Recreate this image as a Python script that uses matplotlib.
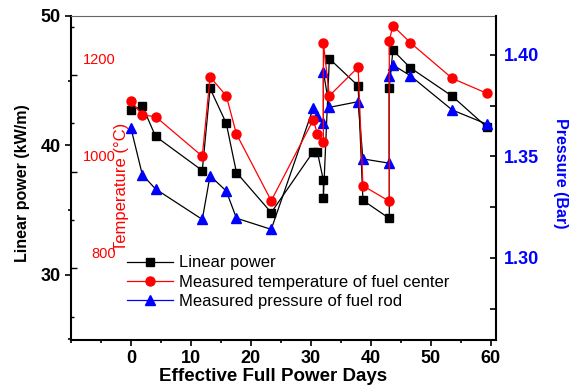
import matplotlib
matplotlib.use('Agg')
import matplotlib.pyplot as plt
import matplotlib.transforms as mtransforms
from matplotlib.ticker import MultipleLocator, FixedLocator
from matplotlib.lines import Line2D

plt.rcParams['font.family'] = ['Liberation Sans', 'DejaVu Sans']
plt.rcParams['font.weight'] = 'bold'
plt.rcParams['axes.labelweight'] = 'bold'

# effective full power days (shared by all three series)
days = [0, 1.9, 4.1, 11.9, 13.2, 15.9, 17.6, 23.4, 30.4, 31.1, 32.1, 32.1, 33.1,
        37.9, 38.7, 43.1, 43.1, 43.7, 46.6, 53.6, 59.4]
# linear power, kW/m
power = [42.7, 43.05, 40.7, 38.05, 44.4, 41.7, 37.9, 34.8, 39.5, 39.5, 37.3, 35.9, 46.7,
         44.6, 35.75, 34.35, 44.45, 47.35, 46.0, 43.8, 41.4]
# measured temperature of fuel center, C
temp = [1147, 1117, 1114, 1032, 1196, 1157, 1078, 940, 1107, 1079, 1061, 1267, 1157,
        1216, 971, 939, 1271, 1302, 1267, 1193, 1162]
# measured pressure of fuel rod, bar
pressure = [1.364, 1.341, 1.334, 1.319, 1.3405, 1.333, 1.3196, 1.3141, 1.3737, 1.370, 1.3667,
            1.3918, 1.3742, 1.377, 1.3488, 1.3467, 1.3898, 1.3951, 1.3898, 1.3729, 1.3659]

labels = ['Linear power', 'Measured temperature of fuel center', 'Measured pressure of fuel rod']
temp_ticks = [800, 1000, 1200]
temp_minor = [700, 900, 1100, 1300]
press_ticks = [1.30, 1.35, 1.40]
press_minor = [1.275, 1.325, 1.375]

fig = plt.figure(figsize=(5.74, 3.91), dpi=100)
ax = fig.add_axes([71/574, 1-340/391, 425/574, 324/391])

ax.plot(days, power, color='black', lw=0.9, marker='s', ms=6, mfc='black', mec='black')
ax.set_xlim(-10, 60.9)
ax.set_ylim(24.95, 50)
ax.set_xticks(range(0, 61, 10))
ax.xaxis.set_minor_locator(MultipleLocator(5))
ax.set_yticks([30, 40, 50])
ax.yaxis.set_minor_locator(MultipleLocator(5))
ax.tick_params(axis='both', which='both', direction='out', width=1.2, labelsize=13)
ax.tick_params(axis='both', which='major', length=4.5)
ax.tick_params(axis='both', which='minor', length=2.5)
ax.tick_params(axis='x', pad=3)
ax.tick_params(axis='y', pad=3)
for s in ['left', 'bottom']:
    ax.spines[s].set_linewidth(1.5)
ax.spines['top'].set_color('#666666')
ax.spines['top'].set_linewidth(0.8)
ax.spines['right'].set_visible(False)

ax.set_xlabel('Effective Full Power Days', fontsize=13.5, fontweight='bold', va='center')
ax.xaxis.set_label_coords(0.475, -0.114)
ax.set_ylabel('Linear power (kW/m)', fontsize=11.5, fontweight='bold', va='center')
ax.yaxis.set_label_coords(-0.113, 0.483)

# pressure axis (right)
ax2 = ax.twinx()
ax2.plot(days, pressure, color='black', lw=0.9, marker='^', ms=7.5, mfc='blue', mec='blue')
ax2.set_ylim(1.2596, 1.4192)
ax2.yaxis.set_major_locator(FixedLocator(press_ticks))
ax2.yaxis.set_minor_locator(FixedLocator(press_minor))
ax2.set_yticklabels(['%.2f' % p for p in press_ticks])
ax2.tick_params(axis='y', which='both', direction='in', length=4.5, width=1.2,
                labelsize=13, labelcolor='blue', pad=5.5)
for s in ['left', 'top', 'bottom']:
    ax2.spines[s].set_visible(False)
ax2.spines['right'].set_linewidth(1.5)
ax2.set_ylabel('Pressure (Bar)', fontsize=11.5, fontweight='bold', color='blue',
               rotation=270, va='center')
ax2.yaxis.set_label_coords(1.1506, 0.515)

# temperature axis (ticks on the left spine, labels inside)
ax3 = ax.twinx()
ax3.plot(days, temp, color='red', lw=0.9, marker='o', ms=6.5, mfc='red', mec='red')
ax3.set_ylim(652, 1322)
ax3.yaxis.set_ticks_position('left')
ax3.yaxis.set_major_locator(FixedLocator(temp_ticks))
ax3.yaxis.set_minor_locator(FixedLocator(temp_minor))
ax3.tick_params(axis='y', which='both', direction='in', width=1.0,
                labelleft=False, labelright=False)
ax3.tick_params(axis='y', which='major', length=4.5)
ax3.tick_params(axis='y', which='minor', length=2.5)
for s in ax3.spines.values():
    s.set_visible(False)

off = mtransforms.ScaledTranslation(0, 14.5/100, fig.dpi_scale_trans)
trans = mtransforms.blended_transform_factory(ax3.transAxes, ax3.transData) + off
for t in temp_ticks:
    ax3.text(0.106, t, str(t), transform=trans, ha='right', va='center',
             color='red', fontsize=10.5, fontweight='normal')
ax3.text(0.119, 0.473, 'Temperature (°C)', transform=ax.transAxes, rotation=90,
         ha='center', va='center', color='red', fontsize=12, fontweight='normal')

h1 = Line2D([], [], color='black', lw=0.9, marker='s', ms=6, mfc='black', mec='black')
h2 = Line2D([], [], color='red', lw=0.9, marker='o', ms=6.5, mfc='red', mec='red')
h3 = Line2D([], [], color='blue', lw=0.9, marker='^', ms=7.5, mfc='blue', mec='blue')
ax3.legend([h1, h2, h3], labels, loc='center left', bbox_to_anchor=(0.132, 0.179),
           frameon=False, borderpad=0, borderaxespad=0, handlelength=2.76,
           handletextpad=0.36, labelspacing=0.25, numpoints=1,
           prop={'size': 12, 'weight': 'normal'})

fig.savefig('out.png', dpi=100)
